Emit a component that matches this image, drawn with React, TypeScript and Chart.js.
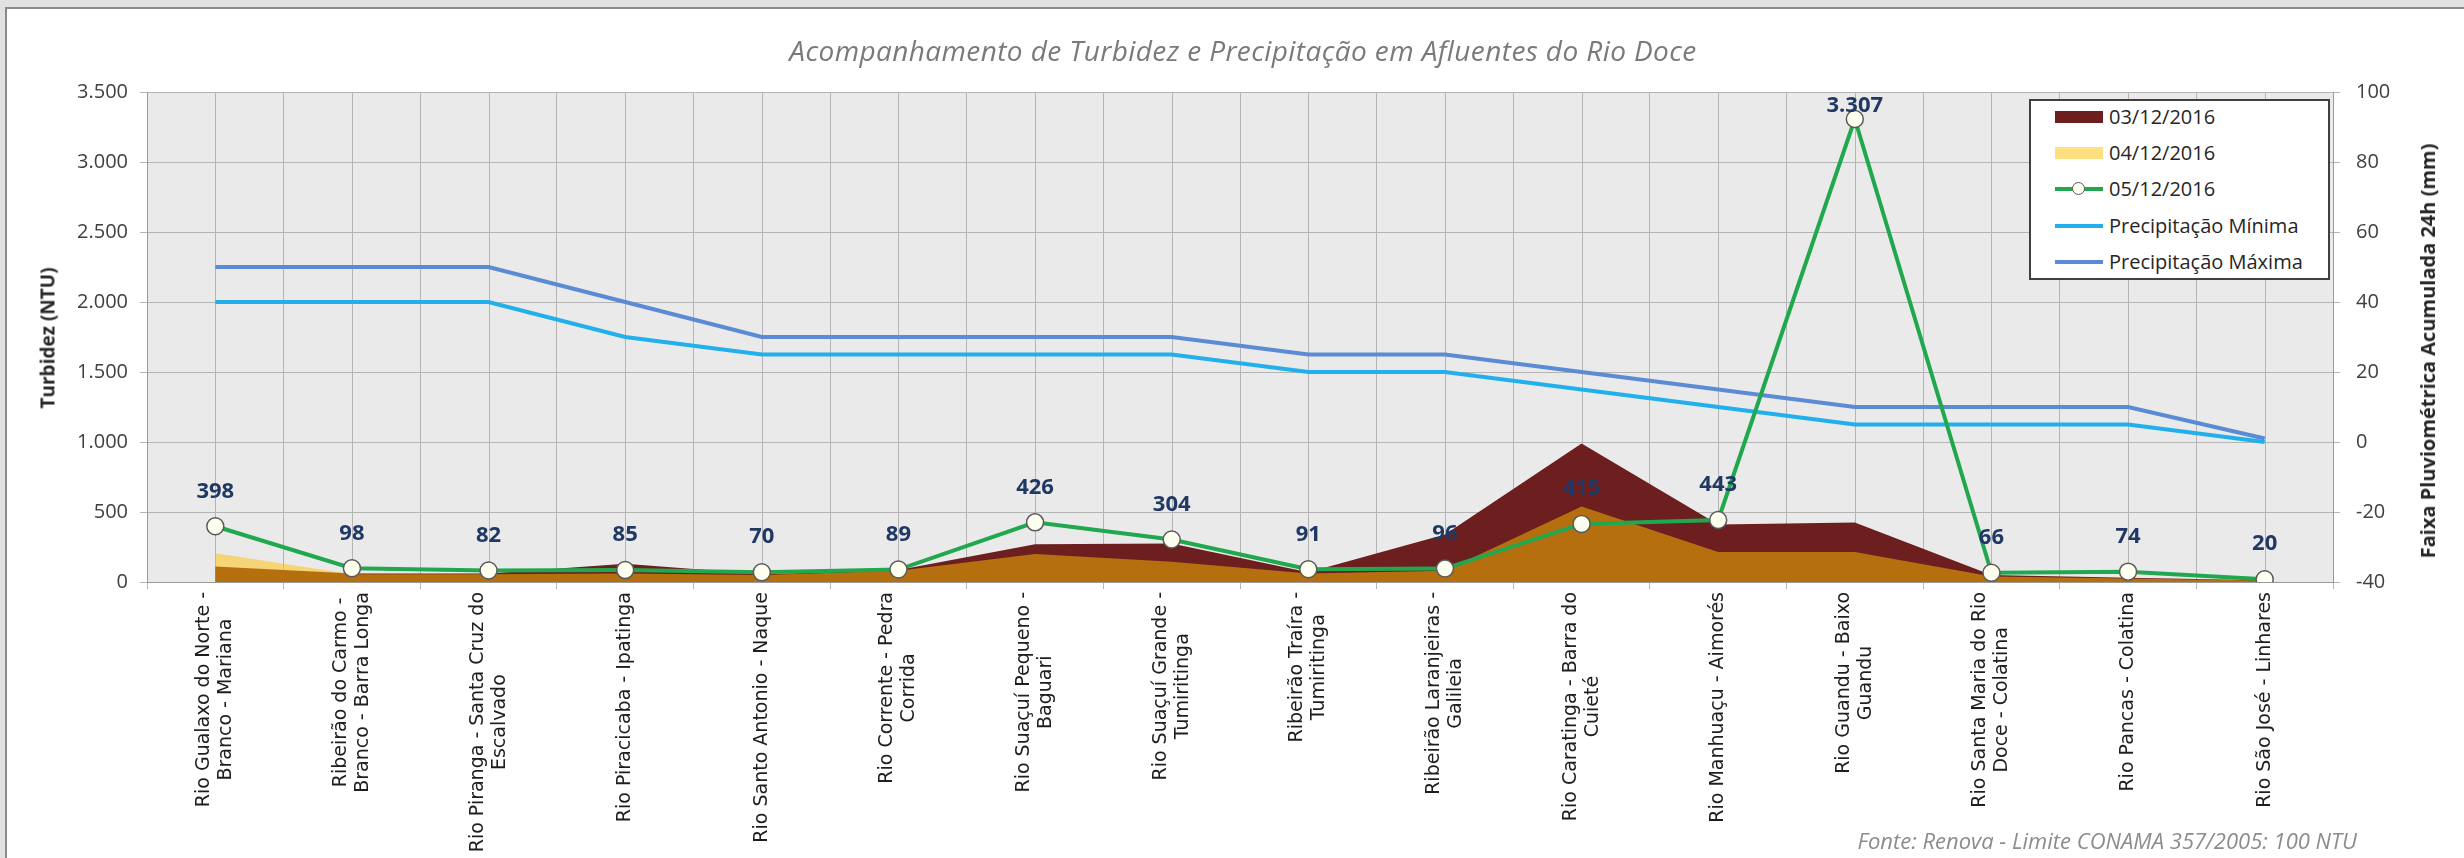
import React, { useEffect, useRef } from 'react';
import { Chart, registerables } from 'chart.js';

Chart.register(...registerables);

// ---------- DATA ----------
const categories: string[][] = [
  ['Rio Gualaxo do Norte -', 'Branco - Mariana'],
  ['Ribeirão do Carmo -', 'Branco - Barra Longa'],
  ['Rio Piranga - Santa Cruz do', 'Escalvado'],
  ['Rio Piracicaba - Ipatinga'],
  ['Rio Santo Antonio - Naque'],
  ['Rio Corrente - Pedra', 'Corrida'],
  ['Rio Suaçuí Pequeno -', 'Baguari'],
  ['Rio Suaçuí Grande -', 'Tumiritinga'],
  ['Ribeirão Traíra -', 'Tumiritinga'],
  ['Ribeirão Laranjeiras -', 'Galileia'],
  ['Rio Caratinga - Barra do', 'Cuieté'],
  ['Rio Manhuaçu - Aimorés'],
  ['Rio Guandu - Baixo', 'Guandu'],
  ['Rio Santa Maria do Rio', 'Doce - Colatina'],
  ['Rio Pancas - Colatina'],
  ['Rio São José - Linhares'],
];

const turbidez0312 = [110, 60, 60, 130, 55, 85, 270, 275, 70, 340, 990, 410, 425, 50, 30, 12];
const turbidez0412 = [205, 55, 55, 60, 50, 80, 200, 145, 60, 80, 540, 215, 215, 40, 25, 10];
const turbidez0512 = [398, 98, 82, 85, 70, 89, 426, 304, 91, 96, 415, 443, 3307, 66, 74, 20];
const precipMinima = [40, 40, 40, 30, 25, 25, 25, 25, 20, 20, 15, 10, 5, 5, 5, 0];
const precipMaxima = [50, 50, 50, 40, 30, 30, 30, 30, 25, 25, 20, 15, 10, 10, 10, 1];

const seriesNames = ['03/12/2016', '04/12/2016', '05/12/2016', 'Precipitação Mínima', 'Precipitação Máxima'];
const leftAxisRange = [0, 3500, 500];
const rightAxisRange = [-40, 100, 20];

const titleText = 'Acompanhamento de Turbidez e Precipitação em Afluentes do Rio Doce';
const leftAxisTitle = 'Turbidez (NTU)';
const rightAxisTitle = 'Faixa Pluviométrica Acumulada 24h (mm)';
const footnoteText = 'Fonte: Renova - Limite CONAMA 357/2005: 100 NTU';

// ---------- STYLE ----------
const C_RED = '#6D1F1F';
const C_YELLOW = 'rgba(255,192,0,0.5)';
const C_YELLOW_LEG = '#FFE080';
const C_GREEN = '#21A84F';
const C_MIN = '#21B0EC';
const C_MAX = '#5B8BD4';
const GRID = '#B5B5B5';
const AXIS = '#9A9A9A';

const fmt = (v: number) => String(v).replace(/\B(?=(\d{3})+(?!\d))/g, '.');

const plotBg = {
  id: 'plotBg',
  beforeDraw(chart: any) {
    const { ctx, chartArea: a } = chart;
    ctx.save();
    ctx.fillStyle = '#EAEAEA';
    ctx.fillRect(a.left, a.top, a.right - a.left, a.bottom - a.top);
    ctx.restore();
  },
};

const centerGrid = {
  id: 'centerGrid',
  beforeDatasetsDraw(chart: any) {
    const { ctx, chartArea: a } = chart;
    const xs = chart.scales.x;
    ctx.save();
    ctx.strokeStyle = GRID;
    ctx.lineWidth = 1;
    for (let i = 0; i < categories.length; i++) {
      const x = Math.round(xs.getPixelForValue(i)) + 0.5;
      ctx.beginPath();
      ctx.moveTo(x, a.top);
      ctx.lineTo(x, a.bottom);
      ctx.stroke();
    }
    ctx.restore();
  },
};

const dataLabels = {
  id: 'dataLabels',
  afterDatasetsDraw(chart: any) {
    const { ctx, chartArea: a } = chart;
    const meta = chart.getDatasetMeta(2);
    ctx.save();
    ctx.font = 'bold 22px "Open Sans", sans-serif';
    ctx.fillStyle = '#1F3864';
    ctx.textAlign = 'center';
    ctx.textBaseline = 'middle';
    meta.data.forEach((pt: any, i: number) => {
      const y = Math.max(pt.y - 35, a.top + 14);
      ctx.fillText(fmt(turbidez0512[i]), pt.x, y);
    });
    ctx.restore();
  },
};

const xLabels = {
  id: 'xLabels',
  afterDraw(chart: any) {
    const { ctx, chartArea: a } = chart;
    const xs = chart.scales.x;
    ctx.save();
    ctx.font = '19px "DejaVu Sans", sans-serif';
    ctx.fillStyle = '#1E1E1E';
    ctx.textBaseline = 'middle';
    ctx.textAlign = 'center';
    const lh = 22;
    categories.forEach((lines, i) => {
      const x = xs.getPixelForValue(i);
      const maxW = Math.max(...lines.map((l) => ctx.measureText(l).width));
      ctx.save();
      ctx.translate(x, a.bottom + 10);
      ctx.rotate(-Math.PI / 2);
      lines.forEach((l, j) => {
        ctx.fillText(l, -maxW / 2, (j - (lines.length - 1) / 2) * lh);
      });
      ctx.restore();
    });
    ctx.restore();
  },
};

function LegendRow({ top, kind, color, label }: { top: number; kind: string; color: string; label: string }) {
  return (
    <div style={{ position: 'absolute', left: 24, top: top - 14, height: 28, display: 'flex', alignItems: 'center' }}>
      <div style={{ position: 'relative', width: 48, height: 28 }}>
        {kind === 'area' ? (
          <div style={{ position: 'absolute', left: 0, top: 8, width: 48, height: 12, background: color }} />
        ) : (
          <div style={{ position: 'absolute', left: 0, top: 12, width: 48, height: 4, background: color }} />
        )}
        {kind === 'marker' ? (
          <div
            style={{
              position: 'absolute',
              left: 17,
              top: 7,
              width: 11,
              height: 11,
              borderRadius: '50%',
              background: '#FFFFF0',
              border: '1.5px solid #5a5a5a',
            }}
          />
        ) : null}
      </div>
      <div style={{ marginLeft: 6, fontSize: 20, color: '#262626', whiteSpace: 'nowrap', lineHeight: '28px' }}>{label}</div>
    </div>
  );
}

export default function App() {
  const ref = useRef<HTMLCanvasElement>(null);

  useEffect(() => {
    const canvas = ref.current;
    if (!canvas) return;
    const chart = new Chart(canvas, {
      type: 'line',
      data: {
        labels: categories.map((c) => c.join(' ')),
        datasets: [
          {
            label: seriesNames[0],
            data: turbidez0312,
            yAxisID: 'y',
            fill: 'origin',
            backgroundColor: C_RED,
            borderColor: 'transparent',
            borderWidth: 0,
            pointRadius: 0,
            tension: 0,
            order: 5,
          },
          {
            label: seriesNames[1],
            data: turbidez0412,
            yAxisID: 'y',
            fill: 'origin',
            backgroundColor: C_YELLOW,
            borderColor: 'transparent',
            borderWidth: 0,
            pointRadius: 0,
            tension: 0,
            order: 4,
          },
          {
            label: seriesNames[2],
            data: turbidez0512,
            yAxisID: 'y',
            fill: false,
            borderColor: C_GREEN,
            backgroundColor: C_GREEN,
            borderWidth: 4,
            pointRadius: 8.5,
            pointBackgroundColor: '#FFFFF0',
            pointBorderColor: '#5a5a5a',
            pointBorderWidth: 1.5,
            tension: 0,
            order: 1,
          },
          {
            label: seriesNames[3],
            data: precipMinima,
            yAxisID: 'y1',
            fill: false,
            borderColor: C_MIN,
            backgroundColor: C_MIN,
            borderWidth: 4,
            pointRadius: 0,
            tension: 0,
            order: 2,
          },
          {
            label: seriesNames[4],
            data: precipMaxima,
            yAxisID: 'y1',
            fill: false,
            borderColor: C_MAX,
            backgroundColor: C_MAX,
            borderWidth: 4,
            pointRadius: 0,
            tension: 0,
            order: 3,
          },
        ],
      },
      options: {
        responsive: false,
        animation: false,
        devicePixelRatio: 1,
        layout: { padding: { top: 92, left: 0, right: 0, bottom: 0 } },
        plugins: {
          legend: { display: false },
          tooltip: { enabled: false },
          title: { display: false },
        },
        scales: {
          x: {
            type: 'category',
            offset: true,
            grid: { offset: true, color: GRID, tickLength: 7, drawTicks: true },
            border: { display: true, color: AXIS },
            ticks: { display: false },
            afterFit: (s: any) => {
              s.height = 276;
            },
          },
          y: {
            position: 'left',
            min: leftAxisRange[0],
            max: leftAxisRange[1],
            grid: { color: GRID, tickLength: 7 },
            border: { display: true, color: AXIS },
            ticks: {
              stepSize: leftAxisRange[2],
              padding: 12,
              color: '#404040',
              font: { family: '"Open Sans", sans-serif', size: 20 },
              callback: (v: any) => fmt(Number(v)),
            },
            afterFit: (s: any) => {
              s.width = 147;
            },
          },
          y1: {
            position: 'right',
            min: rightAxisRange[0],
            max: rightAxisRange[1],
            grid: { drawOnChartArea: false, color: GRID, tickLength: 7 },
            border: { display: true, color: AXIS },
            ticks: {
              stepSize: rightAxisRange[2],
              padding: 16,
              color: '#404040',
              font: { family: '"Open Sans", sans-serif', size: 20 },
            },
            afterFit: (s: any) => {
              s.width = 131;
            },
          },
        },
      } as any,
      plugins: [plotBg, centerGrid, dataLabels, xLabels],
    });
    return () => chart.destroy();
  }, []);

  return (
    <div
      style={{
        position: 'absolute',
        left: 0,
        top: 0,
        width: 2464,
        height: 858,
        overflow: 'hidden',
        background: '#E2E2E2',
        fontFamily: '"Open Sans", sans-serif',
      }}
    >
      <div
        style={{
          position: 'absolute',
          left: 5,
          top: 7,
          right: 0,
          bottom: 0,
          background: '#FFFFFF',
          borderTop: '2px solid #8A8A8A',
          borderLeft: '2px solid #8A8A8A',
        }}
      />
      <canvas ref={ref} width={2464} height={858} style={{ position: 'absolute', left: 0, top: 0, width: 2464, height: 858 }} />
      <div
        style={{
          position: 'absolute',
          left: 1243,
          top: 50,
          transform: 'translate(-50%, -50%)',
          whiteSpace: 'nowrap',
          fontStyle: 'italic',
          fontSize: 28,
          letterSpacing: '0.4px',
          color: '#7A7A7A',
          lineHeight: 1,
        }}
      >
        {titleText}
      </div>
      <div
        style={{
          position: 'absolute',
          left: 48,
          top: 338,
          transform: 'translate(-50%, -50%) rotate(-90deg)',
          whiteSpace: 'nowrap',
          fontWeight: 'bold',
          fontSize: 19,
          color: '#262626',
          lineHeight: 1,
        }}
      >
        {leftAxisTitle}
      </div>
      <div
        style={{
          position: 'absolute',
          left: 2428,
          top: 351,
          transform: 'translate(-50%, -50%) rotate(-90deg)',
          whiteSpace: 'nowrap',
          fontWeight: 'bold',
          fontSize: 20,
          color: '#262626',
          lineHeight: 1,
        }}
      >
        {rightAxisTitle}
      </div>
      <div
        style={{
          position: 'absolute',
          left: 2029,
          top: 99,
          width: 301,
          height: 181,
          boxSizing: 'border-box',
          border: '2px solid #404040',
          background: '#FFFFFF',
        }}
      >
        <LegendRow top={16} kind="area" color={C_RED} label={seriesNames[0]} />
        <LegendRow top={52} kind="area" color={C_YELLOW_LEG} label={seriesNames[1]} />
        <LegendRow top={88} kind="marker" color={C_GREEN} label={seriesNames[2]} />
        <LegendRow top={125} kind="line" color={C_MIN} label={seriesNames[3]} />
        <LegendRow top={161} kind="line" color={C_MAX} label={seriesNames[4]} />
      </div>
      <div
        style={{
          position: 'absolute',
          right: 107,
          top: 840,
          transform: 'translateY(-50%)',
          whiteSpace: 'nowrap',
          fontStyle: 'italic',
          fontSize: 22,
          color: '#8C8C8C',
          lineHeight: 1,
        }}
      >
        {footnoteText}
      </div>
    </div>
  );
}
